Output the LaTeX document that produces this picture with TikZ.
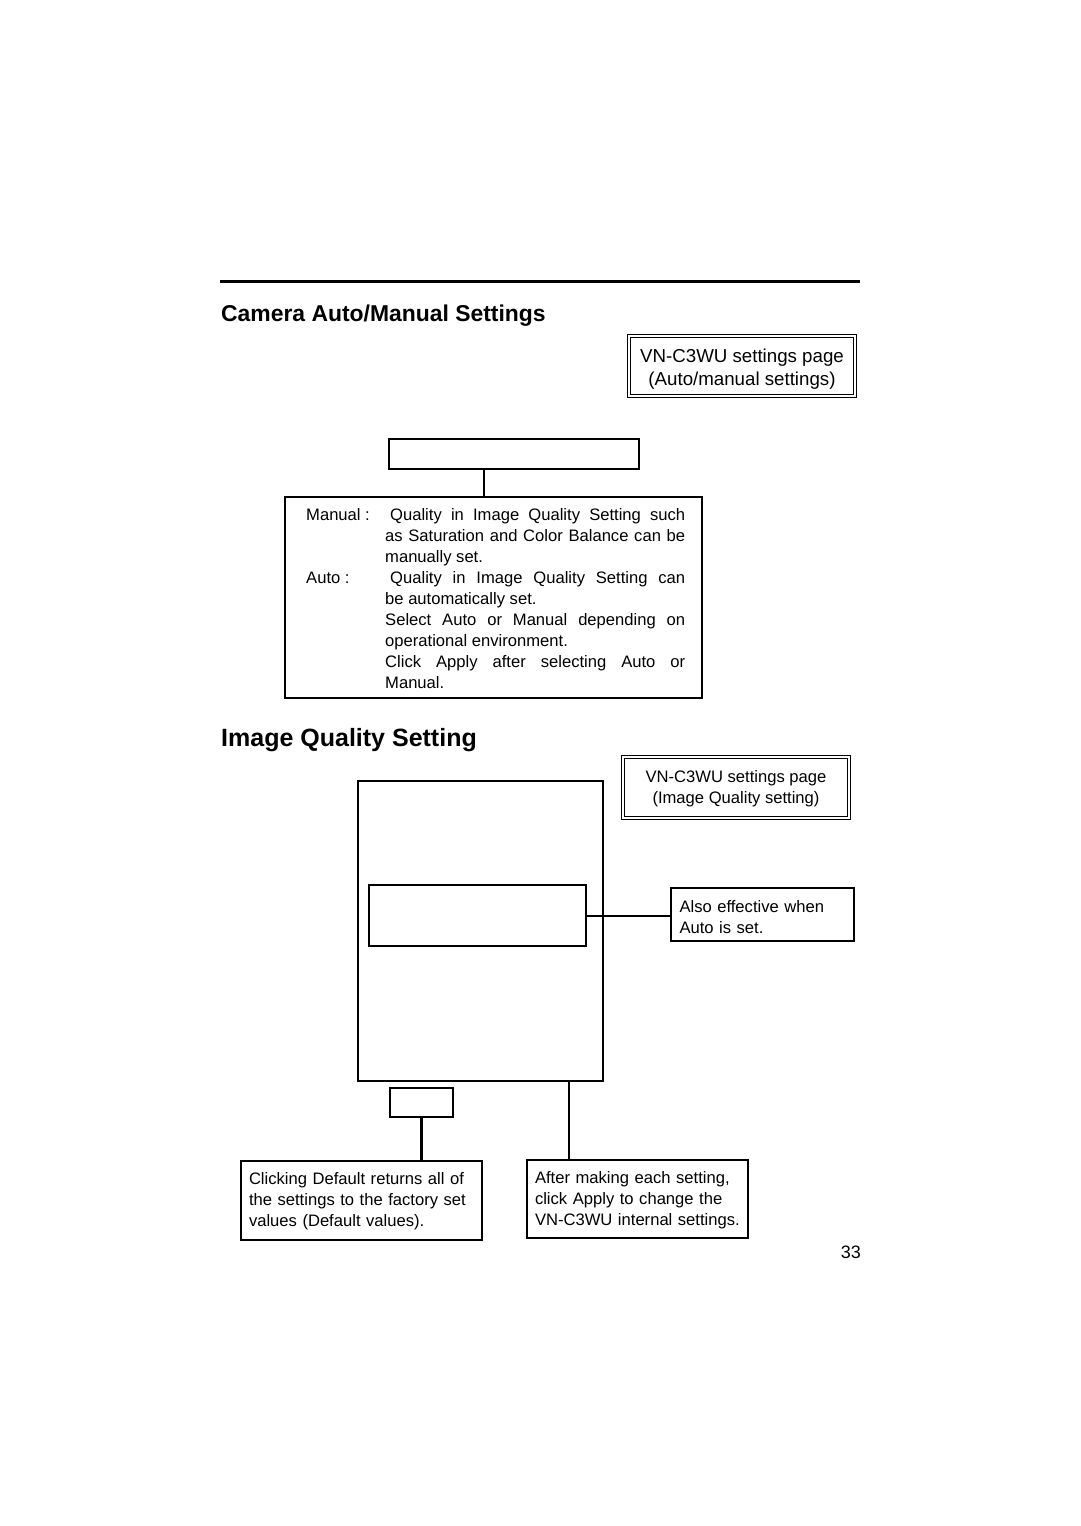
\documentclass[tikz,border=0pt]{standalone}
\usepackage{fontspec}
\setmainfont{Liberation Sans}
\begin{document}
\begin{tikzpicture}[x=1pt,y=-1pt,
  thinbox/.style={draw=black,line width=1.3pt,rectangle,inner sep=0pt},
  thickbox/.style={draw=black,line width=2.6pt,rectangle,inner sep=0pt},
  dblbox/.style={draw=black,line width=1.2pt,double=white,double distance=1.6pt,rectangle,inner sep=0pt,align=center},
  notebox/.style={thinbox,align=left,inner xsep=8pt,font=\fontsize{16.6}{21}\selectfont},
  link/.style={draw=black,line width=2.4pt},
  title/.style={anchor=base west,inner sep=0pt,font=\bfseries}
]
\useasboundingbox (0,0) rectangle (1080,1526);
\fill[white] (0,0) rectangle (1080,1526);

% top rule
\draw[line width=3pt] (220,281) -- (860,281);

% ---- Camera Auto/Manual Settings ----
\node[title,font=\bfseries\fontsize{22.9}{27}\selectfont] (t1) at (221,321) {Camera Auto/Manual Settings};

\node[dblbox,minimum width=226,minimum height=60,font=\fontsize{18.7}{23}\selectfont] (pg1) at (742,366)
  {\rule{0pt}{19.5pt}VN-C3WU settings page\\(Auto/manual settings)};

\node[thickbox,minimum width=250,minimum height=30] (sel) at (514,454) {};
\node[thinbox,minimum width=417,minimum height=201] (mode) at (493.5,597.5) {};
\coordinate (c0) at (484,0);
\draw[link] (c0 |- sel.south) -- (c0 |- mode.north);

\node[anchor=north west,inner sep=0pt,font=\fontsize{16.6}{21}\selectfont] (modetext) at (306,505.8) {%
\begin{tabular}{@{}p{79pt}@{}l@{}}
Manual : & \makebox[300pt][s]{\hspace{5pt}Quality in Image Quality Setting such}\\
 & \makebox[300pt][s]{as Saturation and Color Balance can be}\\
 & manually set.\\
Auto : & \makebox[300pt][s]{\hspace{5pt}Quality in Image Quality Setting can}\\
 & be automatically set.\\
 & \makebox[300pt][s]{Select Auto or Manual depending on}\\
 & operational environment.\\
 & \makebox[300pt][s]{Click Apply after selecting Auto or}\\
 & Manual.
\end{tabular}};

% ---- Image Quality Setting ----
\node[title,font=\bfseries\fontsize{25}{30}\selectfont] (t2) at (221,746) {Image Quality Setting};

\node[dblbox,minimum width=226,minimum height=61,font=\fontsize{16.6}{21}\selectfont] (pg2) at (736,787.5)
  {\rule{0pt}{14pt}VN-C3WU settings page\\(Image Quality setting)};

\node[thickbox,minimum width=245,minimum height=300] (big) at (480.5,931) {};
\node[thickbox,minimum width=217,minimum height=61] (inner) at (477.5,915.5) {};
\node[notebox,minimum width=183,minimum height=53,text width=166] (also) at (762.5,914.5)
  {\rule{0pt}{18pt}Also effective when\\Auto is set.};
\draw[line width=2pt] (inner.east) -- (inner.east -| also.west);

\node[thickbox,minimum width=63,minimum height=29] (def) at (421.5,1102.5) {};
\node[notebox,minimum width=241,minimum height=79,text width=225] (defnote) at (361.5,1200.5)
  {\rule{0pt}{14pt}Clicking Default returns all of\\the settings to the factory set\\values (Default values).};
\draw[link] (def.south) -- (def.south |- defnote.north);

\node[notebox,minimum width=221,minimum height=78,text width=205] (apply) at (637.5,1199)
  {\rule{0pt}{14pt}After making each setting,\\click Apply to change the\\VN-C3WU internal settings.};
\coordinate (c1) at (569,0);
\draw[link] (c1 |- big.south) -- (c1 |- apply.north);

% page number
\node[anchor=base east,inner sep=0pt,font=\fontsize{18}{21}\selectfont] (pnum) at (861,1258.5) {33};
\end{tikzpicture}
\end{document}
